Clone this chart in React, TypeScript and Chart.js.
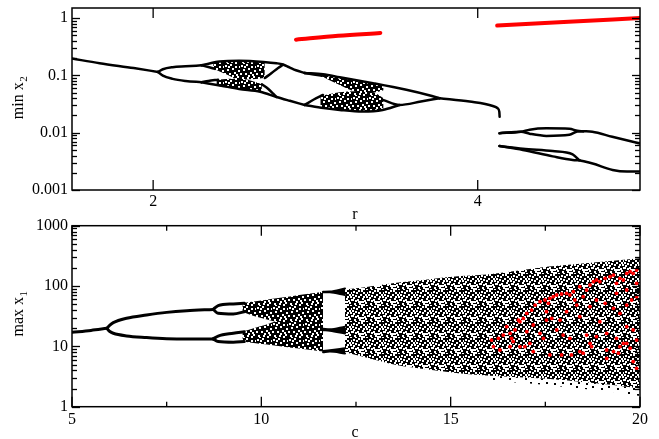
import React, { useEffect, useRef } from 'react';
import { Chart, registerables } from 'chart.js';
Chart.register(...registerables);

type P = [number, number];

// ---------------- TOP PANEL (r vs min x2) ----------------
const topXTicks = [2, 4];
const topYTicks = [0.001, 0.01, 0.1, 1];
const topYLabels = ['0.001', '0.01', '0.1', '1'];

const topMain: P[] = [[1.5, 0.197], [1.67, 0.163], [1.88, 0.134], [2.03, 0.115]];
const topP2Up: P[] = [[2.03, 0.115], [2.06, 0.128], [2.12, 0.139], [2.2, 0.144], [2.298, 0.15]];
const topP2Lo: P[] = [[2.03, 0.115], [2.06, 0.099], [2.12, 0.087], [2.2, 0.08], [2.298, 0.076]];
const topUOuter: P[] = [[2.298, 0.15], [2.41, 0.174], [2.53, 0.18], [2.68, 0.172], [2.76, 0.163], [2.8, 0.155], [2.84, 0.138], [2.88, 0.123], [2.934, 0.11]];
const topUInner: P[] = [[2.298, 0.15], [2.34, 0.14], [2.38, 0.13]];
const topUChaosTop: P[] = [[2.37, 0.17], [2.45, 0.178], [2.53, 0.18], [2.61, 0.178], [2.688, 0.171]];
const topUChaosBot: P[] = [[2.37, 0.132], [2.45, 0.105], [2.53, 0.086], [2.61, 0.086], [2.688, 0.09]];
const topUClose: P[] = [[2.688, 0.09], [2.73, 0.11], [2.77, 0.135], [2.8, 0.153]];
const topLOuter: P[] = [[2.298, 0.076], [2.42, 0.066], [2.53, 0.058], [2.66, 0.052], [2.76, 0.042], [2.842, 0.036], [2.934, 0.0305]];
const topLInner: P[] = [[2.298, 0.076], [2.34, 0.08], [2.4, 0.084]];
const topLChaosTop: P[] = [[2.39, 0.083], [2.47, 0.087], [2.53, 0.087], [2.61, 0.08], [2.67, 0.07]];
const topLChaosBot: P[] = [[2.39, 0.066], [2.47, 0.061], [2.53, 0.058], [2.61, 0.055], [2.67, 0.052]];
const topLClose: P[] = [[2.67, 0.07], [2.71, 0.058], [2.74, 0.048], [2.76, 0.042]];

const topS2UOuter: P[] = [[2.934, 0.11], [3.047, 0.1047], [3.15, 0.0928], [3.355, 0.073], [3.56, 0.056], [3.7, 0.045], [3.765, 0.04]];
const topS2UInner: P[] = [[2.934, 0.11], [2.99, 0.104], [3.04, 0.099]];
const topS2LOuter: P[] = [[2.934, 0.0305], [3.05, 0.027], [3.15, 0.025], [3.29, 0.0234], [3.414, 0.0249], [3.518, 0.0305]];
const topS2LInner: P[] = [[2.934, 0.0305], [2.99, 0.038], [3.047, 0.0456]];
const topS2UChaosTop: P[] = [[3.03, 0.105], [3.15, 0.093], [3.25, 0.082], [3.355, 0.073], [3.42, 0.067]];
const topS2UChaosBot: P[] = [[3.03, 0.1], [3.15, 0.068], [3.25, 0.052], [3.355, 0.05], [3.42, 0.055]];
const topS2LChaosTop: P[] = [[3.03, 0.044], [3.15, 0.051], [3.25, 0.053], [3.355, 0.051], [3.42, 0.04]];
const topS2LChaosBot: P[] = [[3.03, 0.027], [3.15, 0.025], [3.25, 0.0237], [3.355, 0.024], [3.42, 0.025]];
const topS2Tri: P[] = [[3.42, 0.037], [3.518, 0.0305], [3.65, 0.035], [3.765, 0.04]];
const topS2Tail: P[] = [[3.765, 0.04], [3.95, 0.0349], [4.093, 0.0293], [4.123, 0.0267], [4.133, 0.0233], [4.135, 0.019]];

const topR1Top: P[] = [[4.134, 0.0098], [4.267, 0.0104], [4.32, 0.0113], [4.423, 0.0119], [4.565, 0.0117], [4.614, 0.0108], [4.65, 0.0106]];
const topR1Bot: P[] = [[4.134, 0.0098], [4.267, 0.0104], [4.32, 0.0096], [4.423, 0.0088], [4.565, 0.0092], [4.614, 0.0105], [4.65, 0.0106]];
const topR1Tail: P[] = [[4.65, 0.0106], [4.706, 0.0104], [4.829, 0.0085], [5.0, 0.0065]];
const topR2Top: P[] = [[4.134, 0.00585], [4.278, 0.00525], [4.462, 0.00478], [4.585, 0.0042], [4.626, 0.0033]];
const topR2Bot: P[] = [[4.134, 0.00585], [4.278, 0.005], [4.462, 0.00386], [4.585, 0.00334], [4.626, 0.0033]];
const topR2Tail: P[] = [[4.626, 0.0033], [4.708, 0.0029], [4.831, 0.00224], [4.92, 0.0021], [5.0, 0.0021]];

const topRed1: P[] = [[2.88, 0.42], [3.14, 0.49], [3.4, 0.55]];
const topRed2: P[] = [[4.12, 0.74], [4.56, 0.86], [5.0, 1.0]];

// ---------------- BOTTOM PANEL (c vs max x1) ----------------
const botXTicks = [5, 10, 15, 20];
const botXMinor = [7.5, 12.5, 17.5];
const botYTicks = [1, 10, 100, 1000];
const botYLabels = ['1', '10', '100', '1000'];

const botP1: P[] = [[5, 17.1], [5.5, 18.4], [5.92, 19.9]];
const botP2Up: P[] = [[5.92, 19.9], [6.0, 22.5], [6.09, 24.7], [6.44, 29.2], [6.97, 33.1], [7.5, 36.6], [8.03, 39.0], [8.73, 41]];
const botP2Lo: P[] = [[5.92, 19.9], [6.0, 17.6], [6.09, 16.5], [6.44, 14.9], [6.97, 14.0], [7.5, 13.4], [8.03, 13.2], [8.73, 13.3]];
const botP4UpTop: P[] = [[8.73, 41], [8.86, 47.4], [9.26, 50.6], [9.55, 52]];
const botP4UpBot: P[] = [[8.73, 41], [8.86, 35.3], [9.26, 34.3], [9.55, 37.6]];
const botP4LoTop: P[] = [[8.73, 13.3], [8.86, 14.8], [9.26, 16.5], [9.55, 17.5]];
const botP4LoBot: P[] = [[8.73, 13.3], [8.86, 12.0], [9.26, 11.7], [9.55, 12.0]];

const botATop: P[] = [[9.5, 52], [9.8, 55.3], [10.1, 58.8], [10.4, 62.5], [10.8, 67.9], [11.2, 73.7], [11.63, 80.6]];
const botABot: P[] = [[9.5, 37.6], [9.8, 32], [10.1, 28.5], [10.4, 25.5], [10.8, 24.5], [11.2, 24.5], [11.63, 24.5]];
const botBTop: P[] = [[9.5, 17.5], [9.8, 20], [10.1, 22.5], [10.4, 25.5], [10.8, 25.5], [11.2, 25.5], [11.63, 25.5]];
const botBBot: P[] = [[9.5, 12.0], [9.8, 11.4], [10.1, 10.8], [10.4, 10.2], [10.8, 9.5], [11.2, 8.9], [11.63, 8.2]];

const botWinTopA: P[] = [[11.63, 80.6], [11.81, 81], [12.21, 91]];
const botWinTopB: P[] = [[11.63, 79], [11.81, 78.5], [12.21, 71]];
const botWinMidA: P[] = [[11.63, 19.5], [11.81, 19.2], [12.21, 21.2]];
const botWinMidB: P[] = [[11.63, 18.5], [11.81, 18.2], [12.21, 16.4]];
const botWinLowA: P[] = [[11.63, 8.4], [11.81, 8.6], [12.21, 9.3]];
const botWinLowB: P[] = [[11.63, 8.0], [11.81, 8.2], [12.21, 7.65]];

const botCTop: P[] = [[12.21, 88], [12.69, 95], [13.57, 113], [14.45, 130], [15.2, 145], [15.95, 155], [16.65, 176], [17.53, 209], [18.41, 235], [19.29, 262], [20, 288]];
const botCBot: P[] = [[12.21, 8.0], [12.69, 6.7], [13.57, 4.9], [14.45, 4.1], [15.2, 3.6], [15.95, 3.3], [16.65, 3.1], [17.53, 2.9], [18.41, 2.6], [19.29, 2.3], [20, 2.0]];
const botSparseTop: P[] = [[15.95, 3.3], [16.65, 3.1], [17.53, 2.9], [18.41, 2.6], [19.29, 2.3], [20, 2.0]];
const botSparseBot: P[] = [[15.95, 2.8], [16.65, 2.55], [17.53, 2.3], [18.41, 2.0], [19.29, 1.75], [20, 1.5]];

const botRedDots: P[] = [
  [16.13, 9.9], [16.08, 12.7], [16.26, 13.6], [16.39, 15.4], [16.57, 16.4], [16.61, 13.6], [16.65, 12.0], [16.7, 18.7],
  [16.79, 27.3], [16.83, 25.7], [16.92, 29.1], [17.01, 35.2], [17.14, 40.0], [17.23, 48.4], [17.36, 55.1], [17.49, 58.7],
  [17.53, 37.6], [17.58, 51.6], [17.62, 62.5], [17.71, 66.7], [17.8, 71.0], [17.93, 73.8], [18.06, 75.7], [18.15, 71.0],
  [18.24, 80.6], [18.28, 58.7], [18.33, 48.4], [18.41, 97.5], [18.5, 66.7], [18.59, 85.9], [18.68, 104], [18.77, 118],
  [18.85, 126], [18.94, 118], [19.08, 134], [19.21, 143], [19.3, 152], [19.38, 111], [19.47, 134], [19.56, 126],
  [19.65, 162], [19.74, 173], [19.82, 162], [19.91, 184], [17.53, 27.3], [17.67, 29.1], [17.89, 27.3], [18.06, 37.6],
  [18.68, 45.5], [19.08, 51.6], [19.3, 42.7], [19.47, 35.2], [19.65, 48.4], [19.78, 58.7], [19.91, 66.7], [18.41, 31.0],
  [18.15, 13.6], [18.59, 15.4], [18.85, 14.5], [19.12, 16.4], [19.38, 13.6], [19.65, 11.2], [19.82, 18.7], [17.8, 18.7],
  [17.36, 16.4], [17.09, 11.2], [17.01, 17.5], [17.45, 13.6], [19.65, 85.9], [19.91, 111], [19.38, 75.7], [18.85, 58.7],
  [18.68, 11.2], [18.41, 8.2], [19.12, 8.7], [19.47, 9.9], [19.91, 12.7], [19.65, 21.2], [18.94, 25.7], [17.97, 15.4],
  [17.18, 22.6], [16.83, 9.9], [16.3, 8.7], [16.48, 21.2], [16.57, 9.9], [16.96, 9.9], [17.18, 8.2], [17.62, 7.2],
  [17.93, 7.2], [18.19, 7.2], [18.5, 7.7], [18.72, 9.9], [19.12, 6.3], [19.3, 8.2], [19.43, 7.7], [19.56, 11.2],
  [19.74, 9.3], [19.82, 5.6], [19.91, 4.3],
];

// ---------------- styling helpers ----------------
const SERIF = '"Liberation Serif", "Times New Roman", serif';
// stipple tiles (16x16): holes punched in black
const DENSE_HOLES: P[] = [[1, 1], [6, 0], [11, 2], [14, 6], [3, 5], [8, 4], [0, 9], [5, 9], [10, 8], [13, 12], [2, 13],
  [7, 13], [11, 14], [15, 2], [4, 2], [12, 10], [8, 11], [3, 15]];
const MID_HOLES: P[] = [...DENSE_HOLES, [9, 0], [13, 4], [6, 6], [0, 4], [11, 6], [3, 10], [15, 9], [6, 11], [9, 14],
  [14, 15], [1, 7], [10, 11]];
const SPARSE_DOTS: P[] = [[0, 0], [9, 2], [4, 6], [13, 8], [2, 12], [10, 13]];

function dotPattern(dots: P[], size: number) {
  const c = document.createElement('canvas');
  c.width = size; c.height = size;
  const g = c.getContext('2d')!;
  g.fillStyle = '#000';
  for (const [x, y] of dots) g.fillRect(x, y, 2, 2);
  return g.createPattern(c, 'repeat');
}
function holePattern(holes: P[], size: number) {
  const c = document.createElement('canvas');
  c.width = size; c.height = size;
  const g = c.getContext('2d')!;
  g.fillStyle = '#000';
  g.fillRect(0, 0, size, size);
  for (const [x, y] of holes) g.clearRect(x, y, 2, 2);
  return g.createPattern(c, 'repeat');
}

const xy = (pts: P[]) => pts.map(([x, y]) => ({ x, y }));

function line(pts: P[], color = '#000', width = 2.5): any {
  return {
    data: xy(pts), borderColor: color, borderWidth: width, pointRadius: 0, fill: false,
    cubicInterpolationMode: 'monotone', borderCapStyle: 'round', borderJoinStyle: 'round', order: 1,
  };
}
function band(top: P[], bot: P[], bg: any): any[] {
  return [
    { data: xy(top), borderColor: 'rgba(0,0,0,0)', borderWidth: 1, pointRadius: 0, fill: '+1', backgroundColor: bg, cubicInterpolationMode: 'monotone', order: 2 },
    { data: xy(bot), borderColor: 'rgba(0,0,0,0)', borderWidth: 1, pointRadius: 0, fill: false, cubicInterpolationMode: 'monotone', order: 2 },
  ];
}

interface FrameCfg {
  xMajor: number[]; xMinor: number[]; xLabelY: number;
  yMajor: number[]; yLabels: string[];
  xTitle: string; xTitlePos: P; yTitle: string; ySub: string; yTitlePos: P;
}

function makeFrame(cfg: FrameCfg) {
  return {
    id: 'frame',
    afterDraw(chart: any) {
      const { ctx, chartArea: a, scales } = chart;
      const xs = scales.x, ys = scales.y;
      ctx.save();
      ctx.strokeStyle = '#000';
      ctx.lineWidth = 1.5;
      ctx.strokeRect(a.left, a.top, a.right - a.left, a.bottom - a.top);
      ctx.lineWidth = 1.3;
      const seg = (x1: number, y1: number, x2: number, y2: number) => { ctx.beginPath(); ctx.moveTo(x1, y1); ctx.lineTo(x2, y2); ctx.stroke(); };
      for (const v of cfg.xMajor) { const p = xs.getPixelForValue(v); seg(p, a.bottom, p, a.bottom - 10); seg(p, a.top, p, a.top + 10); }
      for (const v of cfg.xMinor) { const p = xs.getPixelForValue(v); seg(p, a.bottom, p, a.bottom - 5); seg(p, a.top, p, a.top + 5); }
      const lo = Math.floor(Math.log10(ys.min)), hi = Math.ceil(Math.log10(ys.max));
      for (let d = lo; d <= hi; d++) {
        for (let k = 1; k <= 9; k++) {
          const v = k * Math.pow(10, d);
          if (v < ys.min * 0.999 || v > ys.max * 1.001) continue;
          const p = Math.round(ys.getPixelForValue(v)) + 0.5;
          const L = k === 1 ? 8 : 5;
          seg(a.left, p, a.left + L, p); seg(a.right, p, a.right - L, p);
        }
      }
      ctx.fillStyle = '#000';
      ctx.font = `16px ${SERIF}`;
      ctx.textBaseline = 'middle';
      ctx.textAlign = 'center';
      for (const v of cfg.xMajor) ctx.fillText(String(v), xs.getPixelForValue(v), cfg.xLabelY);
      ctx.textAlign = 'right';
      cfg.yMajor.forEach((v, i) => ctx.fillText(cfg.yLabels[i], a.left - 4, ys.getPixelForValue(v)));
      ctx.textAlign = 'center';
      ctx.fillText(cfg.xTitle, cfg.xTitlePos[0], cfg.xTitlePos[1]);
      ctx.translate(cfg.yTitlePos[0], cfg.yTitlePos[1]);
      ctx.rotate(-Math.PI / 2);
      const mainW = ctx.measureText(cfg.yTitle).width;
      ctx.font = `11px ${SERIF}`;
      const subW = ctx.measureText(cfg.ySub).width;
      const start = -(mainW + subW) / 2;
      ctx.textAlign = 'left';
      ctx.font = `16px ${SERIF}`;
      ctx.fillText(cfg.yTitle, start, 0);
      ctx.font = `11px ${SERIF}`;
      ctx.fillText(cfg.ySub, start + mainW + 0.5, 5);
      ctx.restore();
    },
  };
}

function options(xmin: number, xmax: number, ymin: number, ymax: number, pad: any, xH: number): any {
  return {
    animation: false, responsive: false, maintainAspectRatio: false,
    layout: { padding: pad },
    plugins: { legend: { display: false }, tooltip: { enabled: false }, title: { display: false } },
    scales: {
      x: {
        type: 'linear', min: xmin, max: xmax,
        grid: { display: false }, border: { display: false },
        afterFit: (s: any) => { s.height = xH; },
        ticks: { display: false },
      },
      y: {
        type: 'logarithmic', min: ymin, max: ymax,
        grid: { display: false }, border: { display: false },
        afterFit: (s: any) => { s.width = 72; },
        ticks: { display: false },
      },
    },
  };
}

export default function App() {
  const topRef = useRef<HTMLCanvasElement>(null);
  const botRef = useRef<HTMLCanvasElement>(null);

  useEffect(() => {
    const dense = holePattern(DENSE_HOLES, 16);
    const mid = holePattern(MID_HOLES, 16);
    const sparse = dotPattern(SPARSE_DOTS, 16);

    const topDatasets: any[] = [
      { ...line(topRed1, '#ff0000', 4), order: 0 },
      { ...line(topRed2, '#ff0000', 4), order: 0 },
      line(topMain), line(topP2Up), line(topP2Lo),
      line(topUOuter), line(topUInner), line(topUClose),
      line(topLOuter), line(topLInner), line(topLClose),
      line(topS2UOuter), line(topS2UInner), line(topS2LOuter), line(topS2LInner), line(topS2Tri), line(topS2Tail),
      line(topR1Top), line(topR1Bot), line(topR1Tail), line(topR2Top), line(topR2Bot), line(topR2Tail),
      ...band(topUChaosTop, topUChaosBot, dense),
      ...band(topLChaosTop, topLChaosBot, dense),
      ...band(topS2UChaosTop, topS2UChaosBot, dense),
      ...band(topS2LChaosTop, topS2LChaosBot, dense),
    ];

    const botDatasets: any[] = [
      { data: xy(botRedDots), showLine: false, pointRadius: 1.9, pointBackgroundColor: '#ff0000', pointBorderWidth: 0, borderColor: '#ff0000', backgroundColor: '#ff0000', order: 0 },
      line(botP1, '#000', 3), line(botP2Up, '#000', 3), line(botP2Lo, '#000', 3),
      line(botP4UpTop, '#000', 3), line(botP4UpBot, '#000', 3), line(botP4LoTop, '#000', 3), line(botP4LoBot, '#000', 3),
      line(botWinTopA, '#000', 2), line(botWinTopB, '#000', 2), line(botWinMidA, '#000', 2), line(botWinMidB, '#000', 2),
      line(botWinLowA, '#000', 2), line(botWinLowB, '#000', 2),
      ...band(botWinTopA, botWinTopB, '#000'),
      ...band(botWinMidA, botWinMidB, '#000'),
      ...band(botWinLowA, botWinLowB, '#000'),
      ...band(botATop, botABot, dense),
      ...band(botBTop, botBBot, dense),
      ...band(botCTop, botCBot, mid),
      ...band(botSparseTop, botSparseBot, sparse),
    ];

    const c1 = new Chart(topRef.current!, {
      type: 'line',
      data: { datasets: topDatasets },
      options: options(1.5, 5.0, 0.001, 1.5, { left: 0, top: 8, right: 19, bottom: 0 }, 40),
      plugins: [makeFrame({
        xMajor: topXTicks, xMinor: [], xLabelY: 201.7, yMajor: topYTicks, yLabels: topYLabels,
        xTitle: 'r', xTitlePos: [355, 215], yTitle: 'min x', ySub: '2', yTitlePos: [19, 98],
      })],
    } as any);

    const c2 = new Chart(botRef.current!, {
      type: 'line',
      data: { datasets: botDatasets },
      options: options(5, 20, 1, 1000, { left: 0, top: 15.7, right: 19, bottom: 0 }, 32.3),
      plugins: [makeFrame({
        xMajor: botXTicks, xMinor: botXMinor, xLabelY: 210, yMajor: botYTicks, yLabels: botYLabels,
        xTitle: 'c', xTitlePos: [355, 223], yTitle: 'max x', ySub: '1', yTitlePos: [19, 104],
      })],
    } as any);

    return () => { c1.destroy(); c2.destroy(); };
  }, []);

  return (
    <div style={{ position: 'fixed', left: 0, top: 0, width: 659, height: 439, background: '#fff' }}>
      <canvas ref={topRef} width={659} height={230} style={{ position: 'absolute', left: 0, top: 0, width: 659, height: 230 }} />
      <canvas ref={botRef} width={659} height={229} style={{ position: 'absolute', left: 0, top: 210, width: 659, height: 229 }} />
    </div>
  );
}
